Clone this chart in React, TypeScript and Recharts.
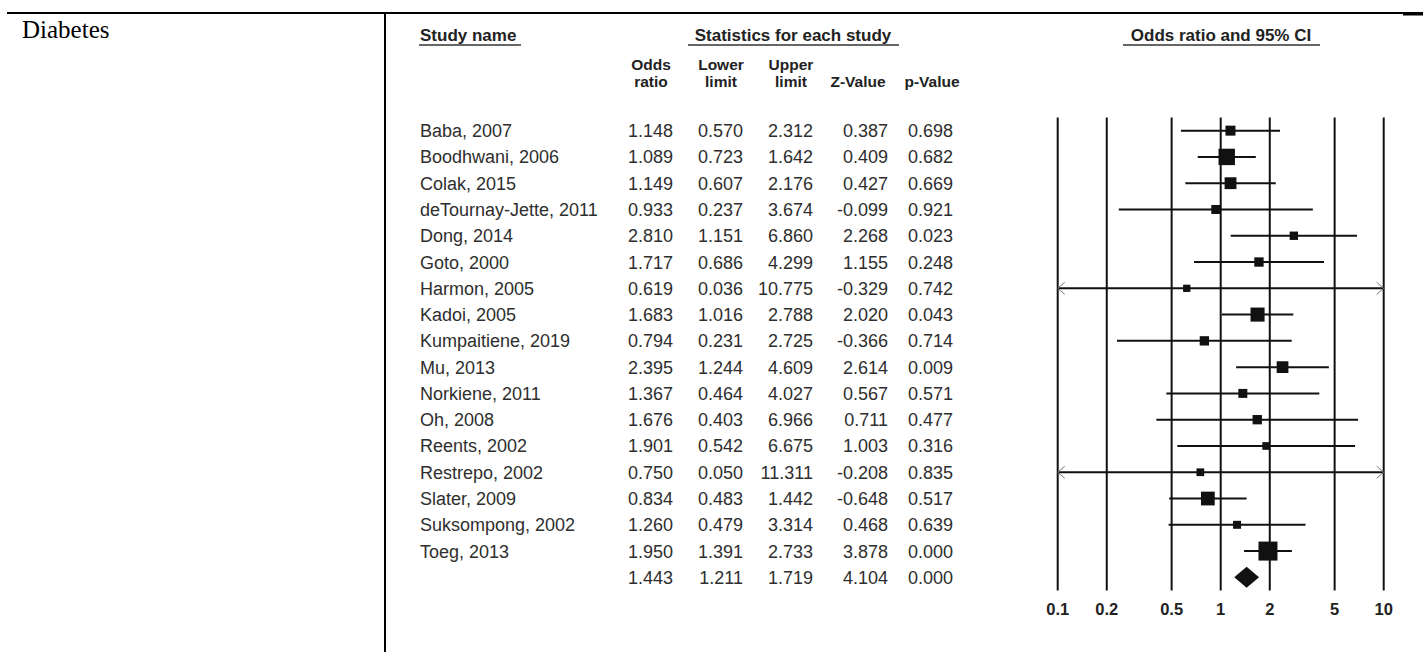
import React from 'react'
import { ComposedChart, Scatter, XAxis, YAxis, ZAxis, ReferenceLine } from 'recharts'

// Study rows
const studies = [
  'Baba, 2007',
  'Boodhwani, 2006',
  'Colak, 2015',
  'deTournay-Jette, 2011',
  'Dong, 2014',
  'Goto, 2000',
  'Harmon, 2005',
  'Kadoi, 2005',
  'Kumpaitiene, 2019',
  'Mu, 2013',
  'Norkiene, 2011',
  'Oh, 2008',
  'Reents, 2002',
  'Restrepo, 2002',
  'Slater, 2009',
  'Suksompong, 2002',
  'Toeg, 2013',
]
const oddsRatio = [1.148, 1.089, 1.149, 0.933, 2.81, 1.717, 0.619, 1.683, 0.794, 2.395, 1.367, 1.676, 1.901, 0.75, 0.834, 1.26, 1.95]
const lowerLimit = [0.57, 0.723, 0.607, 0.237, 1.151, 0.686, 0.036, 1.016, 0.231, 1.244, 0.464, 0.403, 0.542, 0.05, 0.483, 0.479, 1.391]
const upperLimit = [2.312, 1.642, 2.176, 3.674, 6.86, 4.299, 10.775, 2.788, 2.725, 4.609, 4.027, 6.966, 6.675, 11.311, 1.442, 3.314, 2.733]
const zValue = [0.387, 0.409, 0.427, -0.099, 2.268, 1.155, -0.329, 2.02, -0.366, 2.614, 0.567, 0.711, 1.003, -0.208, -0.648, 0.468, 3.878]
const pValue = [0.698, 0.682, 0.669, 0.921, 0.023, 0.248, 0.742, 0.043, 0.714, 0.009, 0.571, 0.477, 0.316, 0.835, 0.517, 0.639, 0.0]
// relative study weights (square area)
const weights = [4.7, 12.7, 6.6, 3.8, 3.3, 4.1, 2.5, 9.3, 4.1, 6.5, 3.8, 4.1, 2.8, 2.8, 8.9, 3.0, 17.0]

// pooled estimate (last row): OR, lower, upper, Z, p
const pooledStats = [1.443, 1.211, 1.719, 4.104, 0.0]

const xTicks = [0.1, 0.2, 0.5, 1, 2, 5, 10]
const xDomain: [number, number] = [0.1, 10]

const FONT = '"Liberation Sans", Arial, Helvetica, sans-serif'
const INK = '#111'
const colRight = [673, 743, 813, 888, 953]
const nameX = 420

const rows = studies.map((name, i) => ({ name, row: i, or: oddsRatio[i], w: weights[i] }))
const rowTicks = Array.from({ length: studies.length + 1 }, (_, i) => i)

function RowTick({ y, payload }: any) {
  const i = payload.value as number
  const pooled = i === studies.length
  const cells = pooled
    ? pooledStats
    : [oddsRatio[i], lowerLimit[i], upperLimit[i], zValue[i], pValue[i]]
  return (
    <g fontFamily={FONT} fontSize={18} fill="#2e2e2e">
      {!pooled && (
        <text x={nameX} y={y} dy={6.5}>
          {studies[i]}
        </text>
      )}
      {cells.map((v, k) => (
        <text key={k} x={colRight[k]} y={y} dy={6.5} textAnchor="end">
          {v.toFixed(3)}
        </text>
      ))}
    </g>
  )
}

function AxisTick({ x, y, payload }: any) {
  return (
    <text x={x} y={y} dy={24.5} textAnchor="middle" fontFamily={FONT} fontWeight="bold" fontSize={16.5} fill="#222">
      {payload.value}
    </text>
  )
}

function WeightSquare(props: any) {
  const { cx, cy, width, size } = props
  const side = width != null ? width : 2 * Math.sqrt(size / Math.PI)
  return <rect x={cx - side / 2} y={cy - side / 2} width={side} height={side} fill={INK} />
}

function Chevron({ x, y, dir }: { x: number; y: number; dir: number }) {
  return (
    <path d={`M${x - dir * 7},${y - 6} L${x},${y} L${x - dir * 7},${y + 6}`} fill="none" stroke="#777" strokeWidth={1} />
  )
}

function CiLine(props: any) {
  const { x1, y1, x2, y2, arrowL, arrowR } = props
  return (
    <g>
      <line x1={x1} y1={y1} x2={x2} y2={y2} stroke={INK} strokeWidth={2} />
      {arrowL && <Chevron x={x1} y={y1} dir={-1} />}
      {arrowR && <Chevron x={x2} y={y2} dir={1} />}
    </g>
  )
}

function Diamond(props: any) {
  const { x1, y1, x2 } = props
  const mid = (x1 + x2) / 2
  const h = 10.5
  return <polygon points={`${x1},${y1} ${mid},${y1 - h} ${x2},${y1} ${mid},${y1 + h}`} fill={INK} />
}

function Headers() {
  const hd = { fontFamily: FONT, fontWeight: 'bold' as const, fill: '#222' }
  const colHead = [
    { x: 651, a: 'Odds', b: 'ratio' },
    { x: 721, a: 'Lower', b: 'limit' },
    { x: 791, a: 'Upper', b: 'limit' },
    { x: 858, a: '', b: 'Z-Value' },
    { x: 932, a: '', b: 'p-Value' },
  ]
  return (
    <svg width={1423} height={652} style={{ position: 'absolute', left: 0, top: 0, pointerEvents: 'none' }}>
      <line x1={7} y1={13} x2={1423} y2={13} stroke="#000" strokeWidth={2} />
      <line x1={1403} y1={14} x2={1423} y2={14} stroke="#000" strokeWidth={3} />
      <line x1={385} y1={12} x2={385} y2={652} stroke="#000" strokeWidth={2} />
      <text x={22} y={38} fontFamily='"Liberation Serif", "Times New Roman", serif' fontSize={25} fill="#000">
        Diabetes
      </text>

      <text x={420} y={41} fontSize={17} {...hd}>Study name</text>
      <line x1={419} y1={45} x2={521} y2={45} stroke="#333" strokeWidth={1.5} />
      <text x={793} y={41} fontSize={17} textAnchor="middle" {...hd}>Statistics for each study</text>
      <line x1={688} y1={45} x2={899} y2={45} stroke="#333" strokeWidth={1.5} />
      <text x={1221} y={41} fontSize={17} textAnchor="middle" {...hd}>Odds ratio and 95% CI</text>
      <line x1={1123} y1={45} x2={1320} y2={45} stroke="#333" strokeWidth={1.5} />

      {colHead.map((c) => (
        <g key={c.b + c.x}>
          {c.a && (
            <text x={c.x} y={69.5} fontSize={15.5} textAnchor="middle" {...hd}>
              {c.a}
            </text>
          )}
          <text x={c.x} y={86.5} fontSize={15.5} textAnchor="middle" {...hd}>
            {c.b}
          </text>
        </g>
      ))}
    </svg>
  )
}

export default function App() {
  return (
    <div style={{ position: 'absolute', left: 0, top: 0, width: 1423, height: 652, background: '#fff' }}>
      <ComposedChart
        width={1423}
        height={652}
        data={rows}
        margin={{ top: 117.5, right: 39.3, bottom: 31.5, left: 0 }}
      >
        <XAxis
          type="number"
          dataKey="or"
          scale="log"
          domain={xDomain}
          ticks={xTicks}
          allowDataOverflow
          axisLine={false}
          tickLine={false}
          tickSize={0}
          tickMargin={0}
          interval={0}
          tick={<AxisTick />}
        />
        <YAxis
          type="number"
          dataKey="row"
          domain={[-0.5, studies.length + 0.5]}
          ticks={rowTicks}
          reversed
          width={1057.7}
          axisLine={false}
          tickLine={false}
          tickSize={0}
          tickMargin={0}
          interval={0}
          tick={<RowTick />}
        />
        <ZAxis type="number" dataKey="w" domain={[0, 17]} range={[0, 283.5]} />

        {xTicks.map((t) => (
          <ReferenceLine key={t} x={t} stroke={INK} strokeWidth={2} />
        ))}

        {rows.map((r, i) => (
          <ReferenceLine
            key={r.name}
            segment={[
              { x: Math.max(lowerLimit[i], xDomain[0]), y: i },
              { x: Math.min(upperLimit[i], xDomain[1]), y: i },
            ]}
            ifOverflow="visible"
            shape={(p: any) => (
              <CiLine {...p} arrowL={lowerLimit[i] < xDomain[0]} arrowR={upperLimit[i] > xDomain[1]} />
            )}
          />
        ))}

        <ReferenceLine
          segment={[
            { x: pooledStats[1], y: studies.length },
            { x: pooledStats[2], y: studies.length },
          ]}
          ifOverflow="visible"
          shape={(p: any) => <Diamond {...p} />}
        />

        <Scatter data={rows} shape={<WeightSquare />} isAnimationActive={false} />
      </ComposedChart>
      <Headers />
    </div>
  )
}
